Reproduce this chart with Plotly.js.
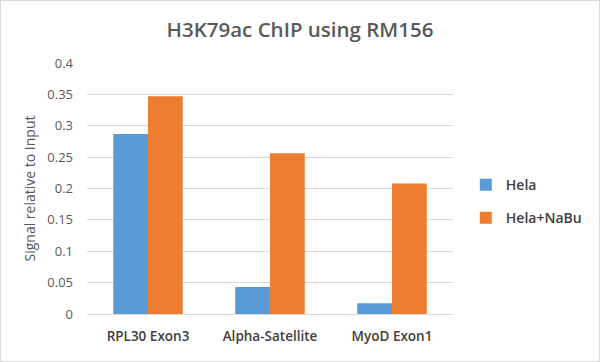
<!DOCTYPE html>
<html>
<head>
<meta charset="utf-8">
<script src="https://cdn.plot.ly/plotly-3.0.1.min.js"></script>
<style>
html,body{margin:0;padding:0;background:#fff;}
#chart{width:598px;height:360px;border:1px solid #d9d9d9;}
</style>
</head>
<body>
<div id="chart"></div>
<script>
const categories = ["RPL30 Exon3", "Alpha-Satellite", "MyoD Exon1"];
const helaValues = [0.287, 0.043, 0.017];
const nabuValues = [0.347, 0.256, 0.208];
const seriesNames = ["Hela", "Hela+NaBu"];
const yTicks = [0, 0.05, 0.1, 0.15, 0.2, 0.25, 0.3, 0.35, 0.4];
const yTickLabels = ["0", "0.05", "0.1", "0.15", "0.2", "0.25", "0.3", "0.35", "0.4"];

const font = "Open Sans, Lato, sans-serif";
const data = [
  {type: "bar", name: seriesNames[0], x: categories, y: helaValues, legendgroup: "a",
   marker: {color: "#5b9bd5"}},
  {type: "bar", name: seriesNames[1], x: categories, y: nabuValues, legendgroup: "b",
   marker: {color: "#ed7d31"}}
];
const layout = {
  width: 598, height: 360,
  margin: {l: 86, r: 143, t: 62, b: 47},
  paper_bgcolor: "#fff", plot_bgcolor: "#fff",
  title: {text: "H3K79ac ChIP using RM156", x: 0.5, xref: "container", y: 0.94, yanchor: "top",
          font: {family: font, size: 20.5, color: "#595959", weight: 600}},
  bargap: 0.43, bargroupgap: 0,
  xaxis: {tickfont: {family: font, size: 13.5, color: "#404040", weight: 600},
          showline: true, linecolor: "#d9d9d9", ticks: "", showgrid: false,
          ticklabelstandoff: 10},
  yaxis: {range: [0, 0.4], tickvals: yTicks, ticktext: yTickLabels,
          tickfont: {family: font, size: 13, color: "#595959"},
          gridcolor: "#d9d9d9", zeroline: false, ticks: "", ticklen: 0, ticklabelstandoff: 13,
          title: {text: "Signal relative to Input", standoff: 8,
                  font: {family: font, size: 14, color: "#595959"}}},
  legend: {x: 1.035, xanchor: "left", y: 0.448, yanchor: "middle",
           font: {family: font, size: 14, color: "#404040", weight: 600},
           itemwidth: 30, tracegroupgap: 12},
  showlegend: true
};
Plotly.newPlot("chart", data, layout, {displayModeBar: false, staticPlot: true});
</script>
</body>
</html>
